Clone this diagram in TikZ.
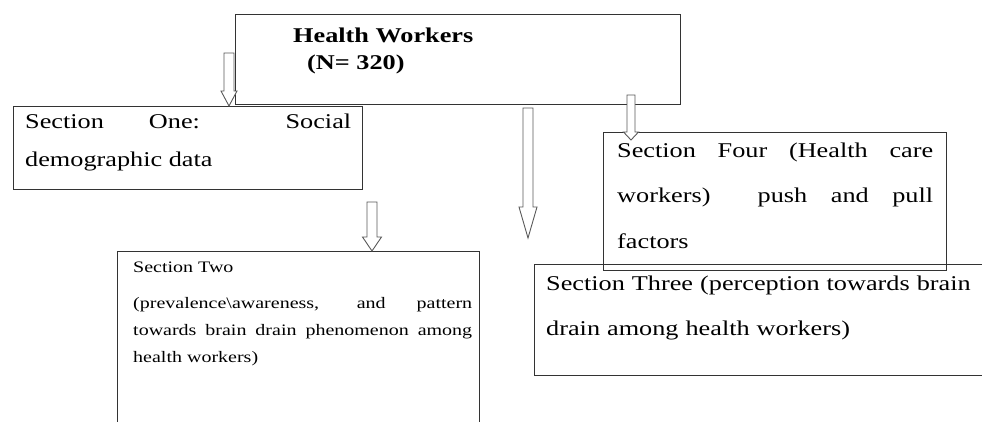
\documentclass[tikz,border=0pt]{standalone}
\usepackage{fontspec}
\setmainfont[FakeStretch=1.25]{Liberation Serif}
\usetikzlibrary{calc}

\tikzset{
  frame/.style={draw=black!80, line width=1.2pt, inner sep=0pt, anchor=north west},
  boxtext/.style={inner sep=0pt, anchor=north west, align=justify},
  % shaft half width, head half width, head length
  blockarrow/.style n args={3}{draw=black!65, line width=0.9pt, fill=white,
    to path={let \p1=(\tikztostart), \p2=(\tikztotarget) in
      ({\x1-#1},\y1) -- ({\x1-#1},{\y2+#3}) -- ({\x1-#2},{\y2+#3}) -- (\x1,\y2)
      -- ({\x1+#2},{\y2+#3}) -- ({\x1+#1},{\y2+#3}) -- ({\x1+#1},\y1) -- cycle}},
}

\begin{document}
\begin{tikzpicture}[x=1pt,y=-1pt]
\useasboundingbox (0,0) rectangle (982,421);
\clip (0,0) rectangle (982,421);

% boxes
\node[frame, minimum width=445pt, minimum height=90pt] (workers) at (235,14) {};
\node[frame, minimum width=349pt, minimum height=83pt] (secone) at (13,106) {};
\node[frame, minimum width=362pt, minimum height=200pt] (sectwo) at (117,251) {};
\node[frame, minimum width=500pt, minimum height=111pt] (secthree) at (534,264) {};
\node[frame, minimum width=343pt, minimum height=138pt] (secfour) at (603,132) {};

% texts
\node[boxtext, align=left, font=\bfseries\fontsize{21}{27}\selectfont] (workers text) at (293,27.5)
  {Health Workers\\\hspace*{14pt}(N= 320)};
\node[boxtext, text width=326pt, font=\fontsize{21}{38}\selectfont] (secone text) at (25,113.5)
  {Section One: Social\linebreak demographic data};
\node[boxtext, text width=339pt, font=\fontsize{16}{27}\selectfont] (sectwo text) at (133,262)
  {Section Two\\[9pt] (prevalence\textbackslash awareness, and pattern\linebreak
   towards brain drain phenomenon among\linebreak health workers)};
\node[boxtext, text width=440pt, align=left, font=\fontsize{21}{45}\selectfont] (secthree text) at (546,275.5)
  {Section Three (perception towards brain\\drain among health workers)};
\node[boxtext, text width=316pt, font=\fontsize{21}{45.5}\selectfont] (secfour text) at (617,142.5)
  {Section Four (Health care\linebreak workers)~ push and pull\linebreak factors};

% arrows
\coordinate (a1) at (229,53);
\coordinate (a2) at (372,202);
\coordinate (a3) at (528,108);
\coordinate (a3 end) at (528,238);
\coordinate (a4) at (631,95);
\coordinate (a4 end) at ($(secfour.north -| a4)+(0,8)$);
\draw[blockarrow={5pt}{8pt}{15pt}] (a1) to (secone.north -| a1);
\draw[blockarrow={5pt}{9.5pt}{14pt}] (a2) to (sectwo.north -| a2);
\draw[blockarrow={5pt}{9pt}{31pt}] (a3) to (a3 end);
\draw[blockarrow={4pt}{7.5pt}{8pt}] (a4) to (a4 end);
\end{tikzpicture}
\end{document}
